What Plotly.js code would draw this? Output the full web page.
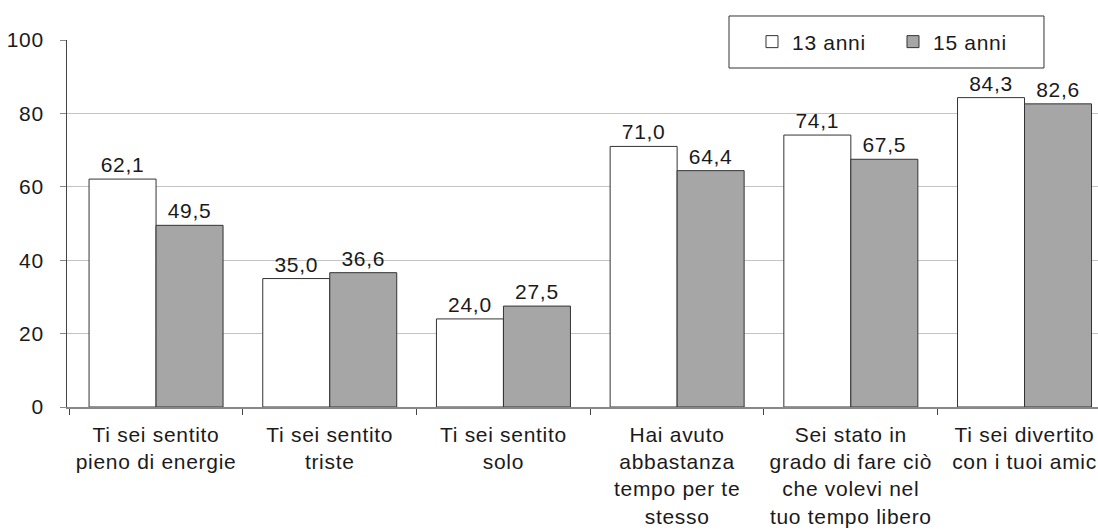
<!DOCTYPE html>
<html>
<head>
<meta charset="utf-8">
<script src="https://cdn.plot.ly/plotly-3.0.1.min.js"></script>
<style>
html,body{margin:0;padding:0;background:#fff;}
#chart{width:1098px;height:530px;}
text{letter-spacing:0.7px;}
</style>
</head>
<body>
<div id="chart"></div>
<script>
var categories = [
  "Ti sei sentito<br>pieno di energie",
  "Ti sei sentito<br>triste",
  "Ti sei sentito<br>solo",
  "Hai avuto<br>abbastanza<br>tempo per te<br>stesso",
  "Sei stato in<br>grado di fare ciò<br>che volevi nel<br>tuo tempo libero",
  "Ti sei divertito<br>con i tuoi amic"
];
var anni13 = [62.1, 35.0, 24.0, 71.0, 74.1, 84.3];
var anni15 = [49.5, 36.6, 27.5, 64.4, 67.5, 82.6];
var seriesNames = ["13 anni", "15 anni"];
var yTicks = [0, 20, 40, 60, 80, 100];

var font = {family: "Liberation Sans, Arial, sans-serif", size: 21, color: "#1a1a1a"};

var traces = [
  {type: "bar", name: seriesNames[0], x: categories, y: anni13,
   marker: {color: "#ffffff", line: {color: "#333", width: 1}},
   texttemplate: "%{y:.1f}", textposition: "outside", cliponaxis: false,
   textfont: font},
  {type: "bar", name: seriesNames[1], x: categories, y: anni15,
   marker: {color: "#a6a6a6", line: {color: "#333", width: 1}},
   texttemplate: "%{y:.1f}", textposition: "outside", cliponaxis: false,
   textfont: font}
];

var layout = {
  width: 1098, height: 530,
  margin: {l: 67, r: 0, t: 40, b: 123},
  paper_bgcolor: "#fff", plot_bgcolor: "#fff",
  separators: ",.",
  font: font,
  barmode: "group", bargap: 0.2286, bargroupgap: 0,
  showlegend: true,
  legend: {orientation: "h", x: 0.6644, y: 0.9946, xanchor: "left", yanchor: "middle",
           bgcolor: "rgba(0,0,0,0)", borderwidth: 0,
           font: font, itemwidth: 30, entrywidth: 96, tracegroupgap: 0},
  shapes: [{type: "rect", xref: "paper", yref: "paper",
            x0: 0.6421, x1: 0.9476, y0: 0.9237, y1: 1.0654,
            fillcolor: "#ffffff", line: {color: "#333", width: 1}, layer: "above"}],
  xaxis: {range: [-0.5127, 5.423], showline: true, linecolor: "#888", linewidth: 1.5,
          ticks: "outside", tickson: "boundaries", ticklen: 6, tickcolor: "#444",
          ticklabelstandoff: 8,
          tickfont: font, showgrid: false, fixedrange: true},
  yaxis: {range: [0, 100], tickvals: yTicks, ticktext: yTicks.map(String),
          showline: true, linecolor: "#444", linewidth: 1,
          ticks: "outside", ticklen: 6, tickcolor: "#888",
          ticklabelstandoff: 12,
          showgrid: true, gridcolor: "#c4c4c4", gridwidth: 1, zeroline: false,
          tickfont: font, fixedrange: true}
};

Plotly.newPlot("chart", traces, layout, {displayModeBar: false, staticPlot: true});
</script>
</body>
</html>
